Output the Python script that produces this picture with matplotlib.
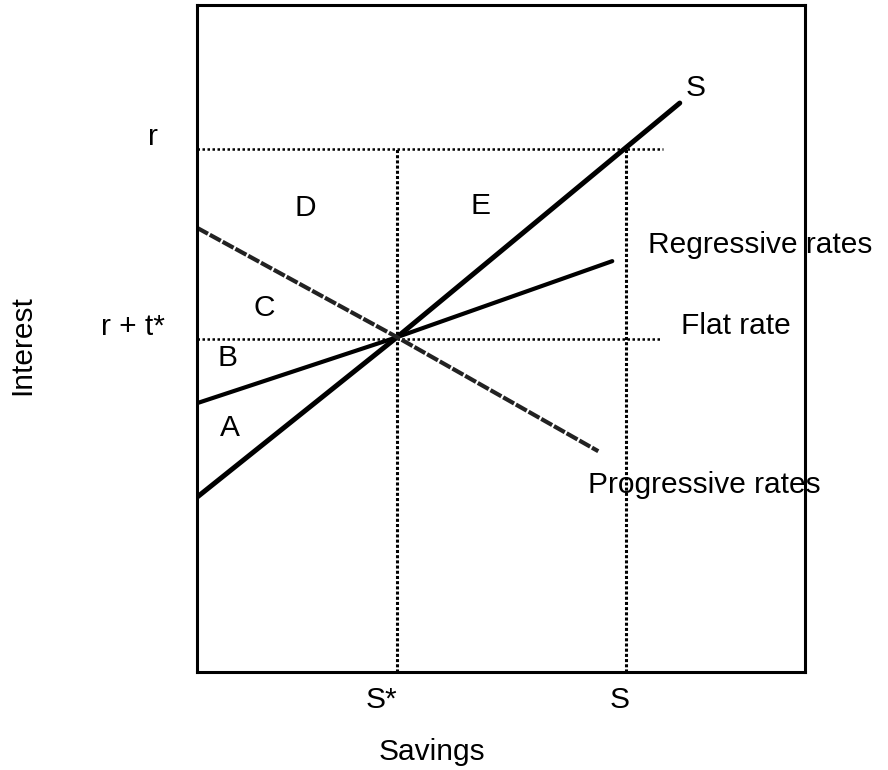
import matplotlib
matplotlib.use("Agg")
import matplotlib.pyplot as plt

plt.rcParams['font.family'] = ['Liberation Sans', 'DejaVu Sans']

# ---- data (arbitrary units, 0-100 axes) ----
s_star = 32.9          # S*
s_level = 70.6         # S
r_level = 78.4         # r
rt_level = 50.0        # r + t*

supply_x = [0.0, 32.9, 79.4]
supply_y = [26.2, 50.2, 85.3]
flat_x = [0.0, 32.9, 68.3]
flat_y = [40.3, 50.2, 61.6]
prog_x = [0.0, 32.9, 66.0]
prog_y = [66.6, 50.2, 33.1]

hline_end = [76.6, 76.2]   # extent of r and r+t* dotted lines

area_labels = ["A", "B", "C", "D", "E"]
curve_labels = ["S", "Regressive rates", "Flat rate", "Progressive rates"]
xtick_labels = ["S*", "S"]
ytick_labels = ["r", "r + t*"]

W, H = 888, 770
fig = plt.figure(figsize=(W / 100, H / 100), dpi=100)
ax = fig.add_axes([197 / W, 1 - 672 / H, (805 - 197) / W, (672 - 5) / H])
ax.set_xlim(0, 100)
ax.set_ylim(0, 100)
ax.set_xticks([])
ax.set_yticks([])
for sp in ax.spines.values():
    sp.set_linewidth(2.2)

hdot = dict(color='black', linewidth=1.8, linestyle=(0, (1, 1.0)))
vdot = dict(color='black', linewidth=2.2, linestyle=(0, (1, 0.7)))
ax.plot([0, hline_end[0]], [r_level, r_level], **hdot)
ax.plot([0, hline_end[1]], [rt_level, rt_level], **hdot)
ax.plot([s_star, s_star], [0, r_level], **vdot)
ax.plot([s_level, s_level], [0, r_level], **vdot)

ax.plot(supply_x, supply_y, color='black', linewidth=3.6, solid_capstyle='round')
ax.plot(flat_x, flat_y, color='black', linewidth=3.0, solid_capstyle='round')
ax.plot(prog_x, prog_y, color='#222222', linewidth=3.0, linestyle=(0, (3, 0.5)))

fs = 21.5

def ftext(px, py, s, **kw):
    fig.text(px / W, 1 - py / H, s, fontsize=fs, **kw)

# area letters
ftext(230, 428, "A", ha='center', va='center')
ftext(227, 358, "B", ha='center', va='center')
ftext(264, 308, "C", ha='center', va='center')
ftext(305, 208, "D", ha='center', va='center')
ftext(480, 206, "E", ha='center', va='center')

# curve labels
ftext(696, 88, "S", ha='center', va='center')
ftext(648, 245, "Regressive rates", ha='left', va='center')
ftext(681, 326, "Flat rate", ha='left', va='center')
ftext(588, 485, "Progressive rates", ha='left', va='center')

# tick-like labels
ftext(153, 137, "r", ha='center', va='center')
ftext(133, 327, "r + t*", ha='center', va='center')
ftext(381, 700, "S*", ha='center', va='center')
ftext(620, 700, "S", ha='center', va='center')

# axis titles
ftext(432, 752, "Savings", ha='center', va='center')
ftext(22, 345, "Interest", ha='center', va='center', rotation=90)

fig.savefig("out.png", dpi=100, facecolor='white')
